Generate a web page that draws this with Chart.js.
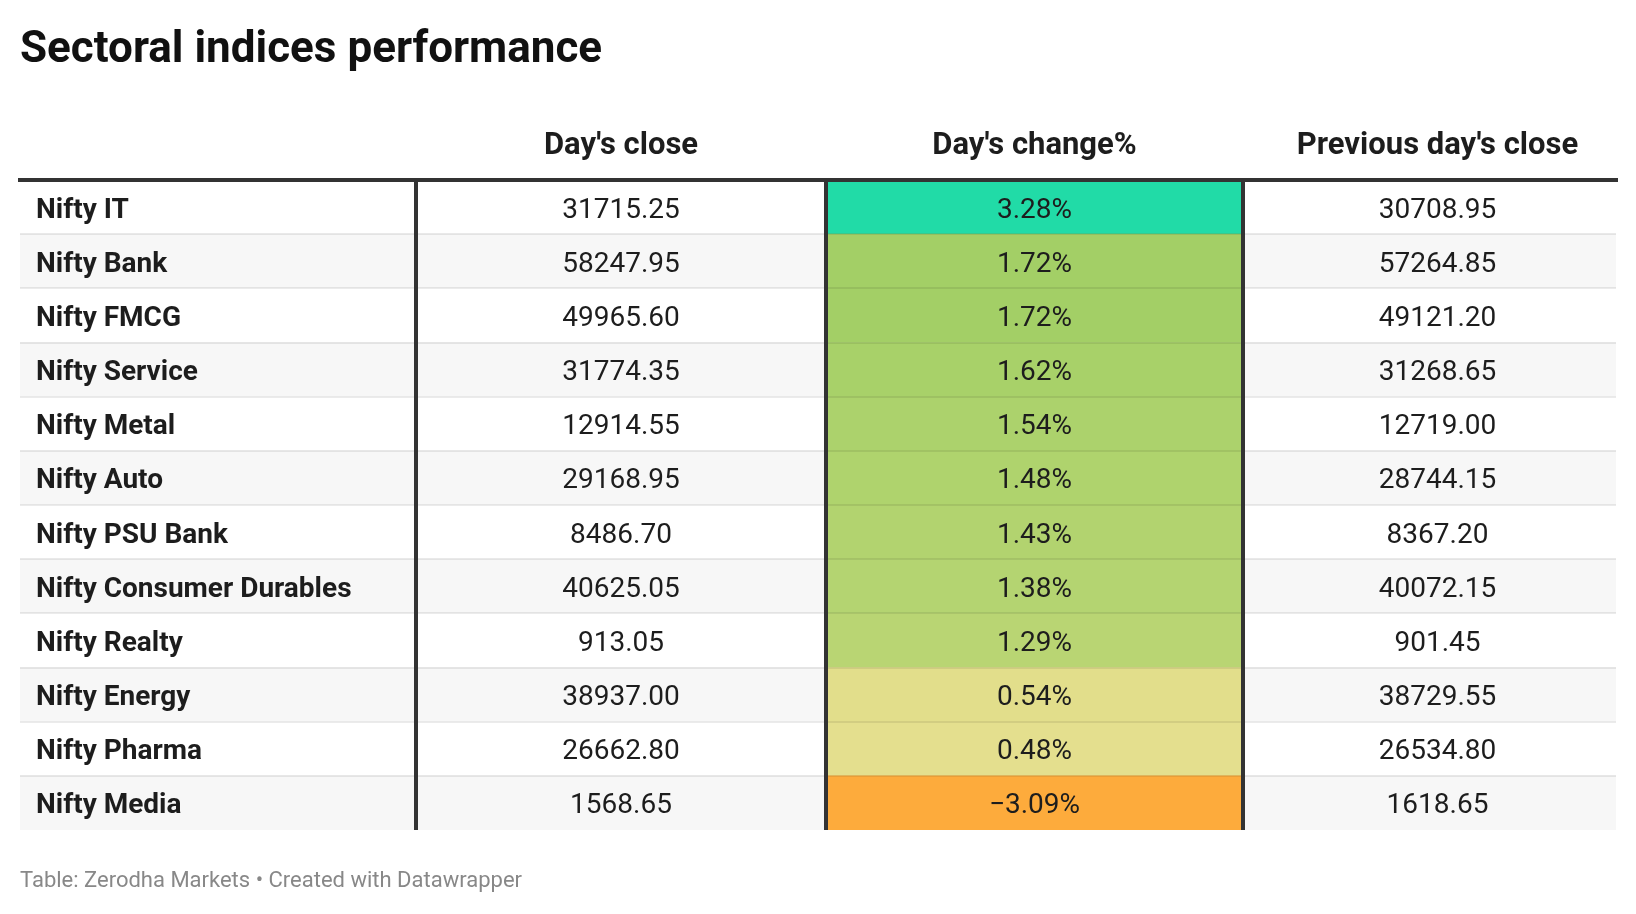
<!DOCTYPE html>
<html>
<head>
<meta charset="utf-8">
<title>Sectoral indices performance</title>
<script src="https://cdn.jsdelivr.net/npm/chart.js@4.4.1/dist/chart.umd.min.js"></script>
<style>
  html, body { margin: 0; padding: 0; background: #ffffff; }
  #wrap { width: 1636px; height: 914px; }
</style>
</head>
<body>
<div id="wrap"><canvas id="tableChart" width="1636" height="914"></canvas></div>
<script>
const sectors = [
  "Nifty IT", "Nifty Bank", "Nifty FMCG", "Nifty Service", "Nifty Metal", "Nifty Auto",
  "Nifty PSU Bank", "Nifty Consumer Durables", "Nifty Realty", "Nifty Energy", "Nifty Pharma", "Nifty Media",
];
const dayClose = [
  31715.25, 58247.95, 49965.6, 31774.35, 12914.55, 29168.95,
  8486.7, 40625.05, 913.05, 38937.0, 26662.8, 1568.65,
];
const changePct = [3.28, 1.72, 1.72, 1.62, 1.54, 1.48, 1.43, 1.38, 1.29, 0.54, 0.48, -3.09];
const prevClose = [
  30708.95, 57264.85, 49121.2, 31268.65, 12719.0, 28744.15,
  8367.2, 40072.15, 901.45, 38729.55, 26534.8, 1618.65,
];
const headers = ["", "Day's close", "Day's change%", "Previous day's close"];

// column edges in px inside the table area, and text nudge per column
const columnEdges = [0, 396, 806, 1223, 1596];
const columnShift = [0, 0, 0, 8];

// colour scale for the change column
const colorStops = [
  [-3.1, [253, 171, 60]],
  [0.4, [230, 225, 145]],
  [0.6, [224, 221, 137]],
  [1.3, [184, 213, 115]],
  [1.75, [162, 207, 101]],
  [3.3, [31, 219, 168]],
];

function cellColor(v) {
  if (v <= colorStops[0][0]) return "rgb(" + colorStops[0][1].join(",") + ")";
  for (let i = 1; i < colorStops.length; i++) {
    const [v1, c1] = colorStops[i];
    const [v0, c0] = colorStops[i - 1];
    if (v <= v1) {
      const t = (v - v0) / (v1 - v0);
      const c = c0.map((x, k) => Math.round(x + (c1[k] - x) * t));
      return "rgb(" + c.join(",") + ")";
    }
  }
  return "rgb(" + colorStops[colorStops.length - 1][1].join(",") + ")";
}

function fmtPct(v) {
  return (v < 0 ? "\u2212" : "") + Math.abs(v).toFixed(2) + "%";
}

const FONT = "Roboto, 'Noto Sans', sans-serif";
const textColor = "#1d1d1d";

const tableText = {
  id: "tableText",
  afterDraw(chart) {
    const { ctx, scales } = chart;
    const x = scales.x;
    const y = scales.y;
    const colCenter = (c) =>
      (x.getPixelForValue(columnEdges[c]) + x.getPixelForValue(columnEdges[c + 1])) / 2 +
      columnShift[c];

    ctx.save();
    ctx.textBaseline = "alphabetic";

    // title
    ctx.fillStyle = "#111111";
    ctx.textAlign = "left";
    ctx.font = "bold 44px " + FONT;
    ctx.fillText("Sectoral indices performance", 20, 62);

    // column headers
    ctx.fillStyle = textColor;
    ctx.textAlign = "center";
    ctx.font = "bold 31px " + FONT;
    headers.forEach((h, c) => {
      if (h) ctx.fillText(h, colCenter(c), 154);
    });

    // rows
    sectors.forEach((name, i) => {
      const base = y.getPixelForValue(i) + 10.5;
      ctx.textAlign = "left";
      ctx.font = "bold 28px " + FONT;
      ctx.fillText(name, x.getPixelForValue(0) + 16, base);

      ctx.textAlign = "center";
      ctx.font = "28px " + FONT;
      ctx.fillText(dayClose[i].toFixed(2), colCenter(1), base);
      ctx.fillText(fmtPct(changePct[i]), colCenter(2), base);
      ctx.fillText(prevClose[i].toFixed(2), colCenter(3), base);
    });

    // footer
    ctx.textAlign = "left";
    ctx.fillStyle = "#888888";
    ctx.font = "22px " + FONT;
    ctx.fillText("Table: Zerodha Markets \u2022 Created with Datawrapper", 20, 887);
    ctx.restore();
  },
};

function drawTable() {
  const ctx = document.getElementById("tableChart").getContext("2d");
  new Chart(ctx, {
    type: "bar",
    data: {
      labels: sectors,
      datasets: [
        {
          label: "Day's change%",
          data: changePct.map(() => [columnEdges[2], columnEdges[3]]),
          backgroundColor: changePct.map(cellColor),
          order: 1,
        },
        {
          label: "rows",
          data: sectors.map(() => [columnEdges[0], columnEdges[4]]),
          backgroundColor: sectors.map((_, i) => (i % 2 ? "#f7f7f7" : "#ffffff")),
          order: 2,
        },
      ],
    },
    options: {
      indexAxis: "y",
      responsive: false,
      animation: false,
      events: [],
      layout: { padding: { top: 180, bottom: 84, left: 20, right: 20 } },
      datasets: {
        bar: {
          categoryPercentage: 1,
          barPercentage: 1,
          grouped: false,
          borderWidth: 0,
          borderSkipped: false,
        },
      },
      scales: {
        x: {
          type: "linear",
          position: "top",
          min: columnEdges[0],
          max: columnEdges[columnEdges.length - 1],
          afterBuildTicks: (scale) => {
            scale.ticks = columnEdges.slice(1, -1).map((v) => ({ value: v }));
          },
          ticks: { display: false },
          grid: { color: "#333333", lineWidth: 4, drawTicks: false, z: 2 },
          border: { display: true, color: "#333333", width: 4, z: 3 },
        },
        y: {
          ticks: { display: false },
          grid: {
            offset: true,
            drawTicks: false,
            lineWidth: 2,
            z: 1,
            color: (c) => (c.index > 0 ? "rgba(0,0,0,0.08)" : "transparent"),
          },
          border: { display: false },
        },
      },
      plugins: {
        legend: { display: false },
        tooltip: { enabled: false },
      },
    },
    plugins: [tableText],
  });
}

Promise.all([
  document.fonts.load("bold 44px Roboto"),
  document.fonts.load("28px Roboto"),
  document.fonts.load("bold 28px Roboto"),
])
  .catch(() => {})
  .then(drawTable);
</script>
</body>
</html>
